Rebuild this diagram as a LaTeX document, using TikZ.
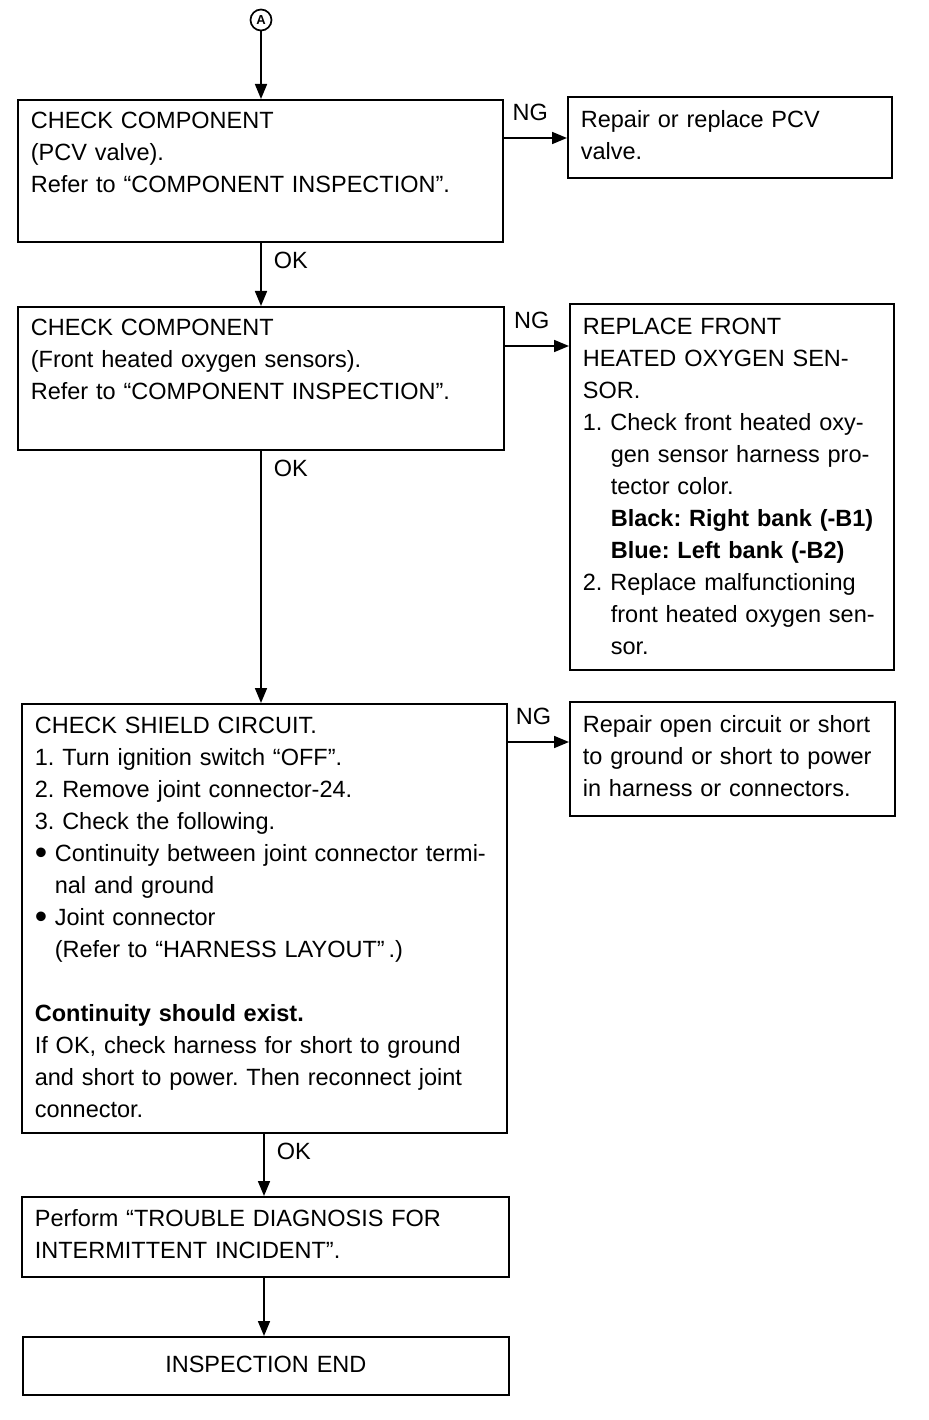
\documentclass[tikz,border=0pt]{standalone}
\usepackage{fontspec}
\usepackage{graphicx}
\setmainfont{Liberation Sans}
\usetikzlibrary{arrows.meta, positioning, calc}
\frenchspacing

\newcommand{\indt}{\hspace*{28pt}}
\newcommand{\bul}{\makebox[20pt][l]{\raisebox{-3pt}{\scalebox{1.5}{\textbullet}}}}

\tikzset{
  chkbox/.style={draw, line width=1.7pt, anchor=north west, align=left,
    inner xsep=13pt, inner ysep=0pt, font=\fontsize{23.5}{32}\selectfont},
  arr/.style={-{Triangle[width=12pt,length=15pt]}, line width=1.7pt},
  oklbl/.style={at start, anchor=north west, inner sep=0pt, xshift=12pt, yshift=-9pt,
    font=\fontsize{23.5}{32}\selectfont},
  nglbl/.style={pos=0.42, above=16pt, inner sep=0pt, font=\fontsize{23.5}{32}\selectfont}
}

\begin{document}
\begin{tikzpicture}[x=1pt, y=-1pt]
  \useasboundingbox (0,0) rectangle (928,1420);

  % entry mark
  \node[draw, circle, line width=1.7pt, inner sep=0pt, minimum size=21pt,
    font=\bfseries\fontsize{13}{13}\selectfont] (A) at (261,20) {A};
  \coordinate (lower) at (264,0);

  % left column
  \node[chkbox, text width=459pt, text height=29pt, text depth=113pt] (pcv) at (17,99)
    {CHECK COMPONENT\\(PCV valve).\\Refer to “COMPONENT INSPECTION”.};
  \node[chkbox, text width=460pt, text height=29pt, text depth=114pt] (sensor) at (17,306)
    {CHECK COMPONENT\\(Front heated oxygen sensors).\\Refer to “COMPONENT INSPECTION”.};
  \node[chkbox, text width=459pt, text height=30pt, text depth=399pt] (shield) at (21,703)
    {CHECK SHIELD CIRCUIT.\\
     1. Turn ignition switch “OFF”.\\
     2. Remove joint connector-24.\\
     3. Check the following.\\
     \bul Continuity between joint connector termi-\\
     \hspace*{20pt}nal and ground\\
     \bul Joint connector\\
     \hspace*{20pt}(Refer to “HARNESS LAYOUT”\,.)\\[32pt]
     \textbf{Continuity should exist.}\\
     If OK, check harness for short to ground\\
     and short to power. Then reconnect joint\\
     connector.};
  \node[chkbox, text width=461pt, text height=30pt, text depth=50pt] (trouble) at (21,1196)
    {Perform “TROUBLE DIAGNOSIS FOR\\INTERMITTENT INCIDENT”.};
  \node[chkbox, align=center, text width=460pt, text height=36pt, text depth=22pt] (inspend) at (22,1336)
    {INSPECTION END};

  % right column
  \node[chkbox, text width=298pt, text height=31pt, text depth=50pt] (pcvng) at (567,96)
    {Repair or replace PCV\\valve.};
  \node[chkbox, text width=298pt, text height=31pt, text depth=335pt] (sensorng) at (569,303)
    {REPLACE FRONT\\
     HEATED OXYGEN SEN-\\
     SOR.\\
     1. Check front heated oxy-\\
     \indt gen sensor harness pro-\\
     \indt tector color.\\
     \indt\textbf{Black: Right bank (-B1)}\\
     \indt\textbf{Blue: Left bank (-B2)}\\
     2. Replace malfunctioning\\
     \indt front heated oxygen sen-\\
     \indt sor.};
  \node[chkbox, text width=299pt, text height=31pt, text depth=83pt] (shieldng) at (569,701)
    {Repair open circuit or short\\to ground or short to power\\in harness or connectors.};

  % OK flow
  \draw[arr] (A) -- (A |- pcv.north);
  \draw[arr] (A |- pcv.south) -- (A |- sensor.north) node[oklbl] {OK};
  \draw[arr] (A |- sensor.south) -- (A |- shield.north) node[oklbl] {OK};
  \draw[arr] (lower |- shield.south) -- (lower |- trouble.north) node[oklbl] {OK};
  \draw[arr] (lower |- trouble.south) -- (lower |- inspend.north);

  % NG flow
  \path ([yshift=-39pt]pcv.north east) coordinate (ng1);
  \draw[arr] (ng1) -- (ng1 -| pcvng.west) node[nglbl] {NG};
  \path ([yshift=-40pt]sensor.north east) coordinate (ng2);
  \draw[arr] (ng2) -- (ng2 -| sensorng.west) node[nglbl] {NG};
  \path ([yshift=-39pt]shield.north east) coordinate (ng3);
  \draw[arr] (ng3) -- (ng3 -| shieldng.west) node[nglbl] {NG};
\end{tikzpicture}
\end{document}
